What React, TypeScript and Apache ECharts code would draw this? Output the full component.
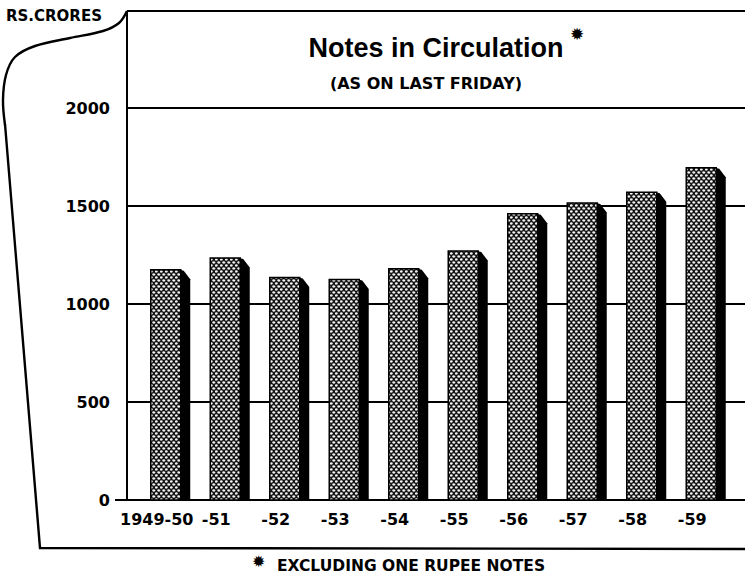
import React, { useEffect, useRef } from "react";
import * as echarts from "echarts";

const categories = ["1949-50", "-51", "-52", "-53", "-54", "-55", "-56", "-57", "-58", "-59"];
const notes = [1175, 1235, 1135, 1125, 1180, 1270, 1460, 1515, 1570, 1695];
const yMin = 0;
const yMax = 2000;
const yStep = 500;
const titleText = "Notes in Circulation";
const subtitleText = "(AS ON LAST FRIDAY)";
const unitText = "RS.CRORES";
const footnoteText = "EXCLUDING ONE RUPEE NOTES";
const starMark = "✹";

const FONT = "'Liberation Sans', Arial, sans-serif";
const WIDE = "'DejaVu Sans', sans-serif";

function makePattern(): HTMLCanvasElement {
  const c = document.createElement("canvas");
  c.width = 5;
  c.height = 6;
  const ctx = c.getContext("2d")!;
  ctx.fillStyle = "#141414";
  ctx.fillRect(0, 0, 5, 6);
  ctx.fillStyle = "#f4f4f4";
  const dots = [
    [1.25, 1.5],
    [3.75, 4.5],
    [6.25, 4.5],
    [-1.25, 4.5],
  ];
  for (const [x, y] of dots) {
    ctx.beginPath();
    ctx.ellipse(x, y, 1.55, 1.15, 0, 0, Math.PI * 2);
    ctx.fill();
  }
  return c;
}

export default function App() {
  const ref = useRef<HTMLDivElement>(null);

  useEffect(() => {
    document.body.style.margin = "0";
    if (!ref.current) return;
    const chart = echarts.init(ref.current, undefined, { renderer: "svg" });
    const pattern = { image: makePattern(), repeat: "repeat" as const };

    const labelStyle = {
      color: "#000",
      fontFamily: WIDE,
      fontWeight: "bold" as const,
    };

    const option: any = {
      animation: false,
      backgroundColor: "#fff",
      grid: [
        { left: 127, right: 23, top: 108, bottom: 75 },
        { left: 127, right: 0, top: 108, bottom: 75 },
      ],
      xAxis: [
        {
          type: "category",
          gridIndex: 0,
          data: categories,
          axisLine: { show: false },
          axisTick: { show: false },
          splitLine: { show: false },
          axisLabel: {
            ...labelStyle,
            fontSize: 16,
            margin: 11,
            interval: 0,
          },
        },
        {
          type: "category",
          gridIndex: 1,
          data: categories,
          axisLine: { show: true, onZero: true, lineStyle: { color: "#000", width: 2 } },
          axisTick: { show: false },
          axisLabel: { show: false },
          splitLine: { show: false },
        },
      ],
      yAxis: [
        {
          type: "value",
          gridIndex: 0,
          min: yMin,
          max: yMax,
          interval: yStep,
          show: false,
        },
        {
          type: "value",
          gridIndex: 1,
          min: yMin,
          max: yMax,
          interval: yStep,
          axisLine: { show: true, lineStyle: { color: "#000", width: 2 } },
          axisTick: { show: false },
          splitLine: { show: true, lineStyle: { color: "#000", width: 2 } },
          axisLabel: {
            ...labelStyle,
            fontSize: 16,
            margin: 17,
            formatter: (v: number) => String(v),
          },
        },
      ],
      series: [
        {
          type: "custom",
          xAxisIndex: 0,
          yAxisIndex: 0,
          data: notes.map((v, i) => [i, v]),
          encode: { x: 0, y: 1 },
          renderItem: (params: any, api: any) => {
            const idx = api.value(0);
            const v = api.value(1);
            const top = api.coord([idx, v]);
            const base = api.coord([idx, 0]);
            const band = api.size([1, 0])[0];
            const k = band / 59.5;
            const x0 = top[0] - 6 * k;
            const w = 30 * k;
            const d = 9.5 * k;
            return {
              type: "group",
              children: [
                {
                  type: "polygon",
                  shape: {
                    points: [
                      [x0 + w - 1, top[1]],
                      [x0 + w + 3, top[1] + 1],
                      [x0 + w + d, top[1] + d],
                      [x0 + w + d, base[1]],
                      [x0 + w - 1, base[1]],
                    ],
                  },
                  style: { fill: "#000" },
                },
                {
                  type: "rect",
                  shape: { x: x0, y: top[1], width: w, height: base[1] - top[1] },
                  style: { fill: pattern, stroke: "#000", lineWidth: 1.5 },
                },
              ],
            };
          },
        },
      ],
      graphic: [
        { type: "line", shape: { x1: 127, y1: 11, x2: 745, y2: 11 }, style: { stroke: "#000", lineWidth: 2 } },
        { type: "line", shape: { x1: 127, y1: 11, x2: 127, y2: 109 }, style: { stroke: "#000", lineWidth: 2 } },
        { type: "line", shape: { x1: 115, y1: 500, x2: 128, y2: 500 }, style: { stroke: "#000", lineWidth: 2 } },
        {
          type: "polyline",
          shape: {
            points: [
              [127, 11],
              [119, 23],
              [103, 31],
              [70, 38],
              [35, 46],
              [15, 57],
              [6, 75],
              [3, 100],
              [5, 125],
            ],
            smooth: 0.35,
          },
          style: { stroke: "#000", lineWidth: 2.4, fill: "none" },
        },
        {
          type: "polyline",
          shape: { points: [[5, 124], [40, 548], [745, 549]] },
          style: { stroke: "#000", lineWidth: 2.4, fill: "none" },
        },
        {
          type: "text",
          x: 6,
          y: 16,
          style: {
            text: unitText,
            fontFamily: WIDE,
            fontWeight: "bold",
            fontSize: 15,
            fill: "#000",
            verticalAlign: "middle",
          },
        },
        {
          type: "text",
          x: 436,
          y: 48,
          style: {
            text: titleText,
            fontFamily: FONT,
            fontWeight: "bold",
            fontSize: 27,
            fill: "#000",
            align: "center",
            verticalAlign: "middle",
          },
        },
        {
          type: "text",
          x: 570,
          y: 34,
          style: {
            text: starMark,
            fontFamily: WIDE,
            fontSize: 17,
            fill: "#000",
            verticalAlign: "middle",
          },
        },
        {
          type: "text",
          x: 426,
          y: 83,
          style: {
            text: subtitleText,
            fontFamily: WIDE,
            fontWeight: "bold",
            fontSize: 16,
            fill: "#000",
            align: "center",
            verticalAlign: "middle",
          },
        },
        {
          type: "text",
          x: 252,
          y: 561,
          style: {
            text: starMark,
            fontFamily: WIDE,
            fontSize: 16,
            fill: "#000",
            verticalAlign: "middle",
          },
        },
        {
          type: "text",
          x: 277,
          y: 566,
          style: {
            text: footnoteText,
            fontFamily: WIDE,
            fontWeight: "bold",
            fontSize: 15.5,
            fill: "#000",
            verticalAlign: "middle",
          },
        },
      ],
    };

    chart.setOption(option);
    return () => chart.dispose();
  }, []);

  return <div ref={ref} style={{ width: 745, height: 575 }} />;
}
